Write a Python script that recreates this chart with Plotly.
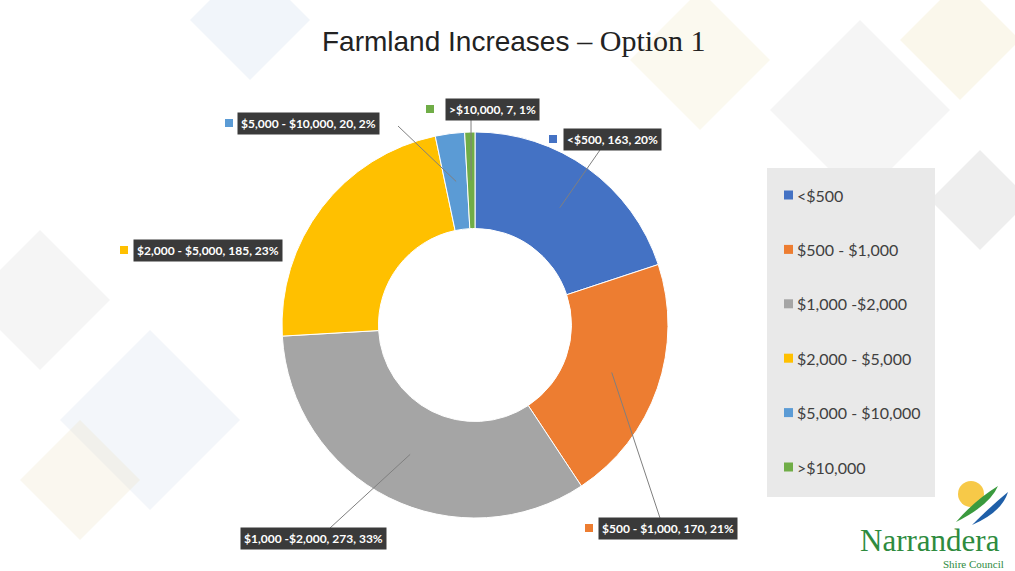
import math
import plotly.graph_objects as go

W, H = 1015, 571

categories = ['<$500', '$500 - $1,000', '$1,000 -$2,000', '$2,000 - $5,000', '$5,000 - $10,000', '>$10,000']
values = [163, 170, 273, 185, 20, 7]
colors = ['#4472C4', '#ED7D31', '#A5A5A5', '#FFC000', '#5B9BD5', '#70AD47']

label_font = dict(family='Lato', size=12, color='white', weight='bold')
legend_font = dict(family='Lato', size=16, color='#404040')


def px(x):
    return x / W


def py(y):
    return 1 - y / H


# pie placement in pixels
cx, cy, rad = 475, 325, 193

fig = go.Figure(go.Pie(
    labels=categories,
    values=values,
    marker=dict(colors=colors, line=dict(color='white', width=1)),
    hole=0.5,
    sort=False,
    direction='clockwise',
    rotation=0,
    textinfo='none',
    hoverinfo='label+value+percent',
    showlegend=False,
    domain=dict(x=[px(cx - rad), px(cx + rad)], y=[py(cy + rad), py(cy - rad)]),
))

total = sum(values)
pcts = [round(v / total * 100) for v in values]


# point on the ring at slice mid angle, derived from the data
def mid_point(i, frac=0.75):
    start = sum(values[:i])
    ang = (start + values[i] / 2) / total * 2 * math.pi
    return cx + rad * frac * math.sin(ang), cy - rad * frac * math.cos(ang)


# label box left x, centre y, square x (None = no square), leader end
label_pos = [
    (563, 139, 549, (600, 150)),
    (598, 528, 585, (660, 518)),
    (240, 538, None, (330, 528)),
    (133, 250, 120, None),
    (237, 123, 225, (398, 126)),
    (445, 109, 426, (471, 118)),
]

shapes = []
annotations = []

# background decoration
deco = [
    (40, 300, 70, 'rgba(200,200,200,0.18)'),
    (150, 420, 90, 'rgba(190,205,225,0.18)'),
    (80, 480, 60, 'rgba(235,225,190,0.25)'),
    (860, 110, 90, 'rgba(200,200,200,0.18)'),
    (980, 200, 50, 'rgba(200,200,200,0.30)'),
    (700, 60, 70, 'rgba(240,230,190,0.25)'),
    (250, 20, 60, 'rgba(200,215,235,0.25)'),
    (960, 40, 60, 'rgba(240,230,190,0.30)'),
]
for x0, y0, s, c in deco:
    path = f'M {px(x0)},{py(y0 - s)} L {px(x0 + s)},{py(y0)} L {px(x0)},{py(y0 + s)} L {px(x0 - s)},{py(y0)} Z'
    shapes.append(dict(type='path', xref='paper', yref='paper', path=path,
                       fillcolor=c, line=dict(width=0), layer='below'))

for i, (bx, by, sx, end) in enumerate(label_pos):
    annotations.append(dict(
        x=px(bx), y=py(by), xref='paper', yref='paper', xanchor='left', yanchor='middle',
        text=f'{categories[i]}, {values[i]}, {pcts[i]}%', showarrow=False,
        font=label_font, bgcolor='#3a3a3a', borderpad=3,
    ))
    if sx is not None:
        shapes.append(dict(type='rect', xref='paper', yref='paper',
                           x0=px(sx), x1=px(sx + 8), y0=py(by + 4), y1=py(by - 4),
                           fillcolor=colors[i], line=dict(width=0)))
    if end is not None:
        mx, my = mid_point(i)
        shapes.append(dict(type='line', xref='paper', yref='paper',
                           x0=px(mx), y0=py(my), x1=px(end[0]), y1=py(end[1]),
                           line=dict(color='#7f7f7f', width=1)))

# custom legend box
shapes.append(dict(type='rect', xref='paper', yref='paper',
                   x0=px(767), x1=px(935), y0=py(497), y1=py(168),
                   fillcolor='#e9e9e9', line=dict(width=0)))
for i, cat in enumerate(categories):
    ly = 195 + i * 54.4
    shapes.append(dict(type='rect', xref='paper', yref='paper',
                       x0=px(784), x1=px(793), y0=py(ly + 4.5), y1=py(ly - 4.5),
                       fillcolor=colors[i], line=dict(width=0)))
    annotations.append(dict(x=px(795), y=py(ly), xref='paper', yref='paper',
                            xanchor='left', yanchor='middle', text=cat,
                            showarrow=False, font=legend_font))

# logo
shapes.append(dict(type='circle', xref='paper', yref='paper',
                   x0=px(958), x1=px(984), y0=py(507), y1=py(481),
                   fillcolor='#F7C948', line=dict(width=0)))
shapes.append(dict(type='path', xref='paper', yref='paper',
                   path=f'M {px(956)},{py(522)} Q {px(975)},{py(500)} {px(998)},{py(486)} Q {px(990)},{py(505)} {px(956)},{py(522)} Z',
                   fillcolor='#3A9A3E', line=dict(width=0)))
shapes.append(dict(type='path', xref='paper', yref='paper',
                   path=f'M {px(972)},{py(525)} Q {px(992)},{py(505)} {px(1008)},{py(492)} Q {px(1002)},{py(512)} {px(972)},{py(525)} Z',
                   fillcolor='#1F5FA8', line=dict(width=0)))
annotations.append(dict(x=px(930), y=py(540), xref='paper', yref='paper', text='Narrandera',
                        xanchor='center', yanchor='middle',
                        showarrow=False, font=dict(family='Liberation Serif', size=31, color='#2E8B3E')))
annotations.append(dict(x=px(973), y=py(564), xref='paper', yref='paper', text='Shire Council',
                        xanchor='center', yanchor='middle',
                        showarrow=False, font=dict(family='Liberation Serif', size=11, color='#2E8B3E')))

# title
annotations.append(dict(
    x=px(514), y=py(40), xref='paper', yref='paper', showarrow=False,
    xanchor='center', yanchor='middle',
    text='Farmland Increases <span style="font-family:Liberation Serif;font-size:30px">– Option 1</span>',
    font=dict(family='Liberation Sans', size=28, color='#222222'),
))

fig.update_layout(
    width=W, height=H,
    margin=dict(l=0, r=0, t=0, b=0),
    paper_bgcolor='white',
    plot_bgcolor='white',
    shapes=shapes,
    annotations=annotations,
)

fig.write_html('out.html', config={'displayModeBar': False},
               post_script="document.body.style.margin='0';")
